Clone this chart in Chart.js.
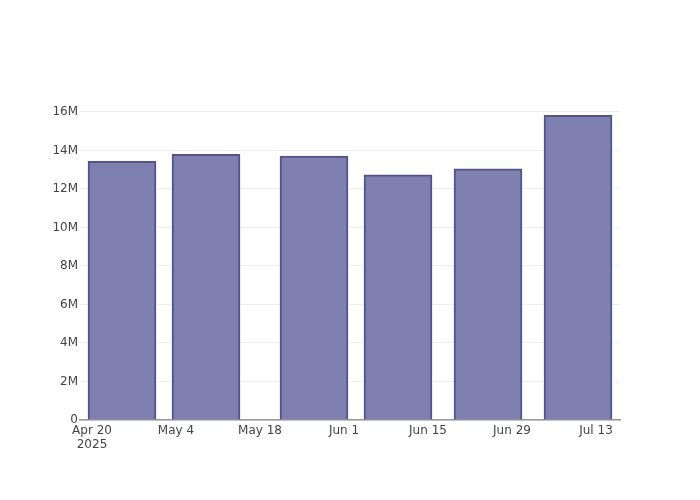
<!DOCTYPE html>
<html>
<head>
<meta charset="utf-8">
<script src="https://cdn.jsdelivr.net/npm/chart.js@4"></script>
<style>
  html, body { margin: 0; padding: 0; background: #fff; }
  #wrap { width: 700px; height: 500px; }
</style>
</head>
<body>
<div id="wrap"><canvas id="chart" width="700" height="500"></canvas></div>
<script>
// bar dates and totals
const dates = ["2025-04-25", "2025-05-09", "2025-05-27", "2025-06-10", "2025-06-25", "2025-07-10"];
const values = [13440000, 13800000, 13710000, 12740000, 13050000, 15820000];

const xTickDates = ["2025-04-20", "2025-05-04", "2025-05-18", "2025-06-01", "2025-06-15", "2025-06-29", "2025-07-13"];
const yTicks = [0, 2e6, 4e6, 6e6, 8e6, 10e6, 12e6, 14e6, 16e6];

const MONTHS = ["Jan", "Feb", "Mar", "Apr", "May", "Jun", "Jul", "Aug", "Sep", "Oct", "Nov", "Dec"];
const origin = Date.UTC(2025, 3, 20);
const dayOf = (s) => {
  const [y, m, d] = s.split("-").map(Number);
  return (Date.UTC(y, m - 1, d) - origin) / 86400000;
};
const labelOf = (day) => {
  const dt = new Date(origin + day * 86400000);
  const txt = MONTHS[dt.getUTCMonth()] + " " + dt.getUTCDate();
  return day === 0 ? [txt, "2025"] : txt;
};
const fmtY = (v) => (v === 0 ? "0" : v / 1e6 + "M");

const FONT = { family: "'DejaVu Sans', sans-serif", size: 12 };

new Chart(document.getElementById("chart").getContext("2d"), {
  type: "bar",
  data: {
    datasets: [{
      data: dates.map((d, i) => ({ x: dayOf(d), y: values[i] })),
      backgroundColor: "rgba(127,127,176,1)",
      borderColor: "#52528c",
      borderWidth: 2,
      barThickness: 68,
      borderSkipped: "bottom",
    }],
  },
  options: {
    responsive: false,
    animation: false,
    layout: { padding: { top: 101, right: 80, left: 0, bottom: 0 } },
    plugins: { legend: { display: false }, tooltip: { enabled: false } },
    scales: {
      x: {
        type: "linear",
        offset: false,
        min: -2,
        max: 88,
        afterBuildTicks: (s) => { s.ticks = xTickDates.map((d) => ({ value: dayOf(d) })); },
        afterFit: (s) => { s.height = 80; },
        ticks: {
          color: "#444",
          font: { ...FONT, lineHeight: 1.15 },
          padding: 4,
          maxRotation: 0,
          autoSkip: false,
          callback: (v) => labelOf(v),
        },
        grid: { display: false, drawTicks: false, offset: false },
        border: { display: true, color: "#999", width: 1.5 },
      },
      y: {
        min: 0,
        max: 16570000,
        afterBuildTicks: (s) => { s.ticks = yTicks.map((v) => ({ value: v })); },
        afterFit: (s) => { s.width = 80; },
        ticks: {
          color: "#444",
          font: FONT,
          padding: 2,
          callback: (v) => fmtY(v),
        },
        grid: { color: "#eeeeee", drawTicks: false },
        border: { display: false },
      },
    },
  },
});
</script>
</body>
</html>
